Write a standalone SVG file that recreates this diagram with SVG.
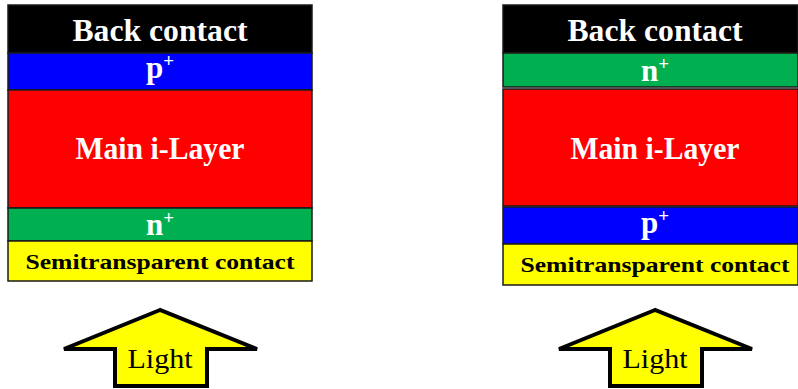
<svg xmlns="http://www.w3.org/2000/svg" width="798" height="389" viewBox="0 0 798 389">
<style>
.layer{stroke:#1a1a1a;stroke-width:1.5}
.t{font-family:"Liberation Serif","DejaVu Serif",serif;font-weight:bold;text-anchor:middle}
.w{fill:#ffffff}
.k{fill:#000000}
.big{font-size:31px}
.mid{font-size:31px}
.sm{font-size:22px}
.sup{font-size:19px}
.arrow{fill:#ffff00;stroke:#000000;stroke-width:4;stroke-linejoin:miter}
.lt{font-family:"Liberation Serif","DejaVu Serif",serif;font-size:28px;text-anchor:middle;fill:#000}
</style>
<rect width="798" height="389" fill="#ffffff"/>
<g id="stack-left">
  <g id="left-back"><rect class="layer" x="8" y="5" width="304" height="48" fill="#000000"/><text class="t w big" x="160" y="41" textLength="175" lengthAdjust="spacingAndGlyphs">Back contact</text></g>
  <g id="left-p"><rect class="layer" x="8" y="53" width="304" height="37" fill="#0000ff"/><text class="t w mid" x="160" y="78">p<tspan class="sup" dy="-11">+</tspan></text></g>
  <g id="left-i"><rect class="layer" x="8" y="90" width="304" height="118" fill="#ff0000"/><text class="t w big" x="160" y="159" textLength="169" lengthAdjust="spacingAndGlyphs">Main i-Layer</text></g>
  <g id="left-n"><rect class="layer" x="8" y="208" width="304" height="33" fill="#00b050"/><text class="t w mid" x="160" y="235">n<tspan class="sup" dy="-11">+</tspan></text></g>
  <g id="left-contact"><rect class="layer" x="8" y="241" width="304" height="40" fill="#ffff00"/><text class="t k sm" x="160" y="269" textLength="269" lengthAdjust="spacingAndGlyphs">Semitransparent contact</text></g>
</g>
<g id="stack-right">
  <g id="right-back"><rect class="layer" x="503" y="5" width="295" height="48" fill="#000000"/><text class="t w big" x="655" y="41" textLength="175" lengthAdjust="spacingAndGlyphs">Back contact</text></g>
  <g id="right-n"><rect class="layer" x="503" y="53" width="295" height="34" fill="#00b050"/><text class="t w mid" x="655" y="81">n<tspan class="sup" dy="-11">+</tspan></text></g>
  <g id="right-i"><rect class="layer" x="503" y="89" width="295" height="117" fill="#ff0000"/><text class="t w big" x="655" y="159" textLength="169" lengthAdjust="spacingAndGlyphs">Main i-Layer</text></g>
  <g id="right-p"><rect class="layer" x="503" y="207" width="295" height="37" fill="#0000ff"/><text class="t w mid" x="655" y="233">p<tspan class="sup" dy="-11">+</tspan></text></g>
  <g id="right-contact"><rect class="layer" x="503" y="244" width="295" height="41" fill="#ffff00"/><text class="t k sm" x="655" y="272" textLength="269" lengthAdjust="spacingAndGlyphs">Semitransparent contact</text></g>
</g>
<g id="light-left">
  <polygon class="arrow" points="160,310 64,349 115,349 115,386 207,386 207,349 257,349"/>
  <text class="lt" x="160" y="368" textLength="65" lengthAdjust="spacingAndGlyphs">Light</text>
</g>
<g id="light-right">
  <polygon class="arrow" points="655,310 559,349 610,349 610,386 702,386 702,349 752,349"/>
  <text class="lt" x="655" y="368" textLength="65" lengthAdjust="spacingAndGlyphs">Light</text>
</g>
</svg>
